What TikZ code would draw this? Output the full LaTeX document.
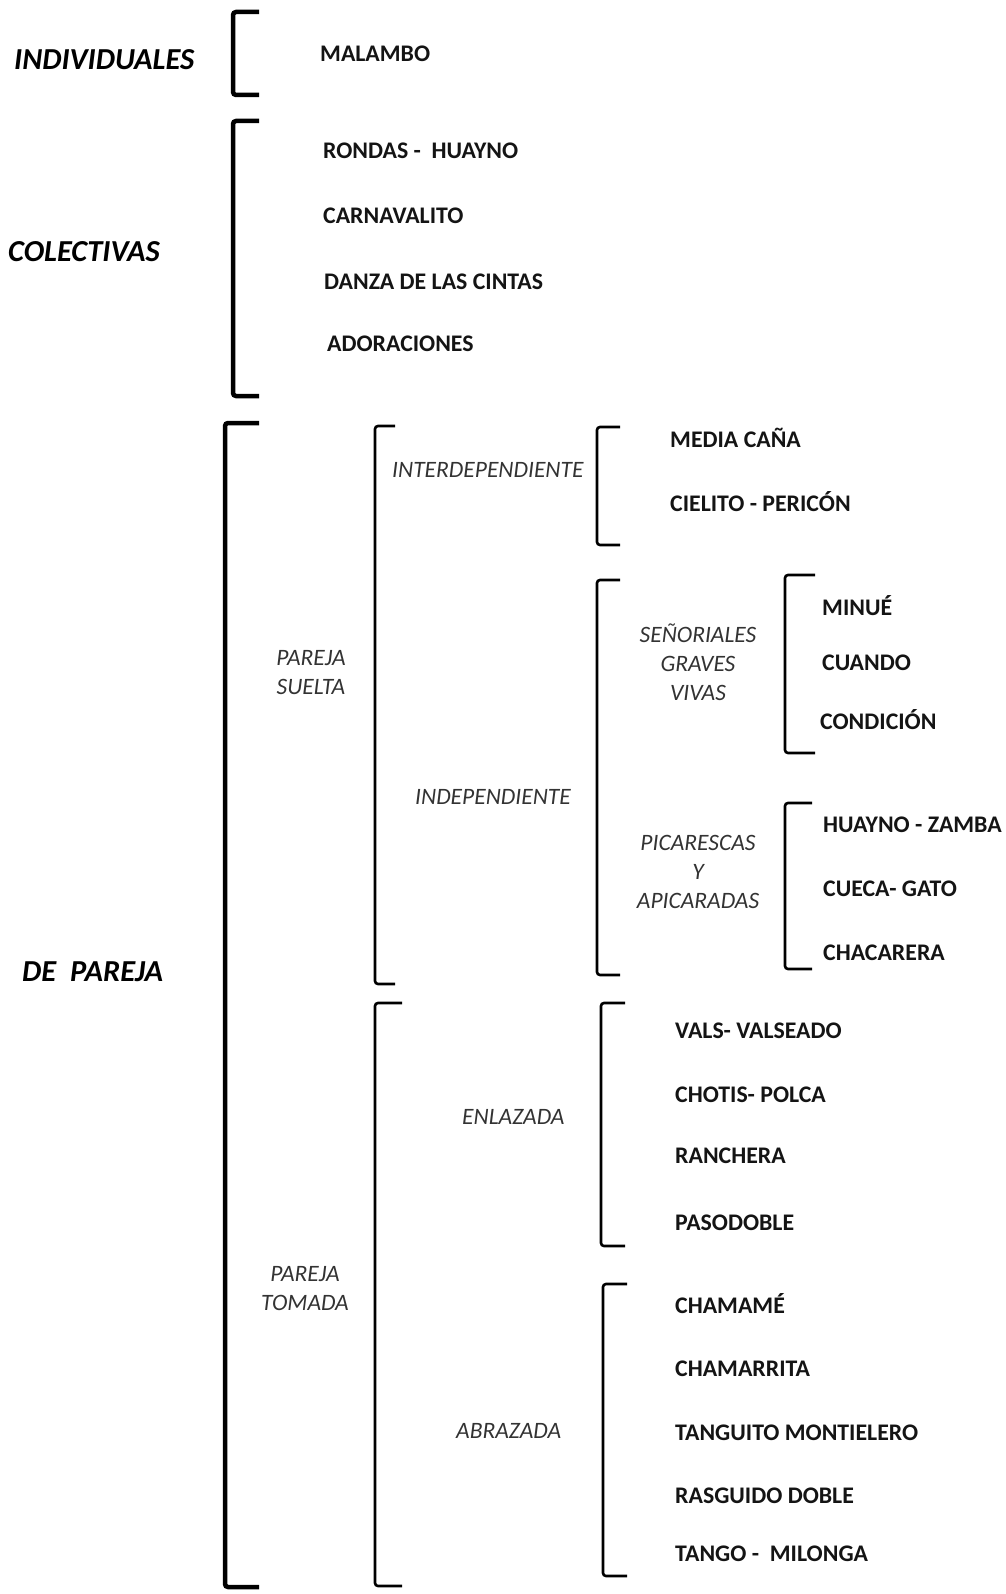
\documentclass[tikz,border=0pt]{standalone}
\usepackage{fontspec}
\setmainfont{Carlito}
\begin{document}
\begin{tikzpicture}[x=1pt,y=-1pt,
 item/.style={anchor=west,inner sep=0pt,font=\fontsize{23.8}{28}\selectfont\bfseries,text=black!92,text height=15.3pt,text depth=0pt},
 cat/.style={anchor=west,inner sep=0pt,font=\fontsize{30.5}{36}\selectfont\bfseries\itshape,text=black,text height=19.6pt,text depth=0pt},
 sub/.style={inner sep=0pt,font=\fontsize{23.5}{29}\selectfont\itshape,text=black!80,align=center,text height=15.1pt,text depth=0pt},
 thickbr/.style={line width=4.5pt,rounded corners=3pt},
 thinbr/.style={line width=2.6pt,rounded corners=3pt}]
\useasboundingbox (0,0) rectangle (1005,1594);
% brackets: top arm end, corner, bottom arm end
\coordinate (b1a) at (259,12);   \coordinate (b1b) at (259,95);
\coordinate (b2a) at (259,121);  \coordinate (b2b) at (259,396);
\coordinate (b3a) at (259,423);  \coordinate (b3b) at (259,1587);
\coordinate (b4a) at (395,426);  \coordinate (b4b) at (395,984);
\coordinate (b9a) at (402,1003); \coordinate (b9b) at (402,1586);
\coordinate (b5a) at (620,427);  \coordinate (b5b) at (620,545);
\coordinate (b6a) at (620,580);  \coordinate (b6b) at (620,975);
\coordinate (b7a) at (815,575);  \coordinate (b7b) at (815,753);
\coordinate (b8a) at (812,803);  \coordinate (b8b) at (812,969);
\coordinate (b10a) at (625,1003); \coordinate (b10b) at (625,1246);
\coordinate (b11a) at (627,1284); \coordinate (b11b) at (627,1576);
\draw[thickbr] (b1a) -- (233,12) -- (233,95) -- (b1b);
\draw[thickbr] (b2a) -- (233,121) -- (233,396) -- (b2b);
\draw[thickbr] (b3a) -- (225,423) -- (225,1587) -- (b3b);
\draw[thinbr] (b4a) -- (375,426) -- (375,984) -- (b4b);
\draw[thinbr] (b9a) -- (375,1003) -- (375,1586) -- (b9b);
\draw[thinbr] (b5a) -- (597,427) -- (597,545) -- (b5b);
\draw[thinbr] (b6a) -- (597,580) -- (597,975) -- (b6b);
\draw[thinbr] (b7a) -- (785,575) -- (785,753) -- (b7b);
\draw[thinbr] (b8a) -- (785,803) -- (785,969) -- (b8b);
\draw[thinbr] (b10a) -- (601,1003) -- (601,1246) -- (b10b);
\draw[thinbr] (b11a) -- (603,1284) -- (603,1576) -- (b11b);
% categories
\node[cat] (indiv) at (14,60) {INDIVIDUALES};
\node[cat] (colec) at (8,252) {COLECTIVAS};
\node[cat] (pareja) at (22,972) {DE \ PAREJA};
% items
\node[item] (malambo) at (320,54) {MALAMBO};
\node[item] (rondas) at (323,151) {RONDAS - \ HUAYNO};
\node[item] (carna) at (323,216) {CARNAVALITO};
\node[item] (danza) at (324,282) {DANZA DE LAS CINTAS};
\node[item] (ador) at (327,344) {ADORACIONES};
% sub labels (multi-line ones are placed by their last line)
\node[sub] (suelta) at (311,687) {PAREJA\\SUELTA};
\node[sub,anchor=west] (interdep) at (392,470) {INTERDEPENDIENTE};
\node[sub,anchor=west] (indep) at (415,797) {INDEPENDIENTE};
\node[sub] (senor) at (698,693) {SEÑORIALES\\GRAVES\\VIVAS};
\node[sub] (pica) at (698,901) {PICARESCAS\\Y\\APICARADAS};
\node[sub] (tomada) at (305,1303) {PAREJA\\TOMADA};
\node[sub,anchor=west] (enlaz) at (462,1117) {ENLAZADA};
\node[sub,anchor=west] (abraz) at (456,1431) {ABRAZADA};
\node[item] (media) at (670,440) {MEDIA CAÑA};
\node[item] (cielito) at (670,504) {CIELITO - PERICÓN};
\node[item] (minue) at (822,608) {MINUÉ};
\node[item] (cuando) at (822,663) {CUANDO};
\node[item] (condi) at (820,722) {CONDICIÓN};
\node[item] (huayno) at (823,825) {HUAYNO - ZAMBA};
\node[item] (cueca) at (823,889) {CUECA- GATO};
\node[item] (chaca) at (823,953) {CHACARERA};
\node[item] (vals) at (675,1031) {VALS- VALSEADO};
\node[item] (chotis) at (675,1095) {CHOTIS- POLCA};
\node[item] (ranch) at (675,1156) {RANCHERA};
\node[item] (paso) at (675,1223) {PASODOBLE};
\node[item] (chamame) at (675,1306) {CHAMAMÉ};
\node[item] (chamar) at (675,1369) {CHAMARRITA};
\node[item] (tang) at (675,1433) {TANGUITO MONTIELERO};
\node[item] (rasg) at (675,1496) {RASGUIDO DOBLE};
\node[item] (tango) at (675,1554) {TANGO - \ MILONGA};
\end{tikzpicture}
\end{document}
